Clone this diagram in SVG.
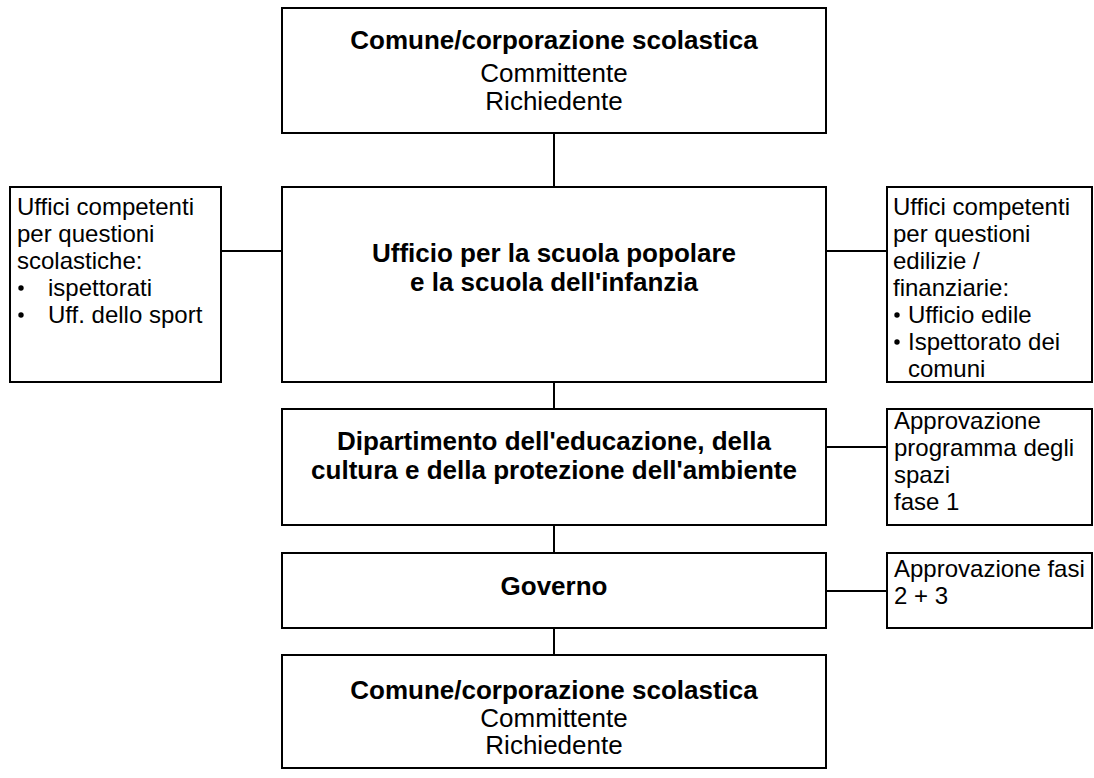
<svg xmlns="http://www.w3.org/2000/svg" width="1094" height="778" viewBox="0 0 1094 778">
<style>
.box{fill:#fff;stroke:#000;stroke-width:2}
.con{stroke:#000;stroke-width:2;fill:none}
text{font-family:"Liberation Sans",Arial,sans-serif;fill:#000}
.m{font-size:26px;text-anchor:middle}
.b{font-weight:bold}
.s{font-size:24px}
</style>
<rect width="1094" height="778" fill="#fff"/>
<g id="connectors">
<line class="con" x1="554" y1="133" x2="554" y2="187"/>
<line class="con" x1="554" y1="382" x2="554" y2="409"/>
<line class="con" x1="554" y1="525" x2="554" y2="553"/>
<line class="con" x1="554" y1="628" x2="554" y2="655"/>
<line class="con" x1="221" y1="251" x2="282" y2="251"/>
<line class="con" x1="826" y1="251" x2="887" y2="251"/>
<line class="con" x1="826" y1="447" x2="887" y2="447"/>
<line class="con" x1="826" y1="591" x2="887" y2="591"/>
</g>
<g id="top">
<rect class="box" x="282" y="8" width="544" height="125"/>
<text class="m b" x="554" y="49">Comune/corporazione scolastica</text>
<text class="m" x="554" y="82">Committente</text>
<text class="m" x="554" y="110">Richiedente</text>
</g>
<g id="ufficio">
<rect class="box" x="282" y="187" width="544" height="195"/>
<text class="m b" x="554" y="262">Ufficio per la scuola popolare</text>
<text class="m b" x="554" y="291">e la scuola dell'infanzia</text>
</g>
<g id="left">
<rect class="box" x="10" y="187" width="211" height="195"/>
<text class="s" x="17" y="215">Uffici competenti</text>
<text class="s" x="17" y="242">per questioni</text>
<text class="s" x="17" y="269">scolastiche:</text>
<circle cx="21" cy="288" r="2.7"/>
<text class="s" x="48" y="296">ispettorati</text>
<circle cx="21" cy="315" r="2.7"/>
<text class="s" x="48" y="323">Uff. dello sport</text>
</g>
<g id="right">
<rect class="box" x="887" y="187" width="205" height="195"/>
<text class="s" x="893" y="215">Uffici competenti</text>
<text class="s" x="893" y="242">per questioni</text>
<text class="s" x="893" y="269">edilizie /</text>
<text class="s" x="893" y="296">finanziarie:</text>
<circle cx="897" cy="315" r="2.7"/>
<text class="s" x="908" y="323">Ufficio edile</text>
<circle cx="897" cy="342" r="2.7"/>
<text class="s" x="908" y="350">Ispettorato dei</text>
<text class="s" x="908" y="377">comuni</text>
</g>
<g id="dipartimento">
<rect class="box" x="282" y="409" width="544" height="116"/>
<text class="m b" x="554" y="450">Dipartimento dell'educazione, della</text>
<text class="m b" x="554" y="479">cultura e della protezione dell'ambiente</text>
</g>
<g id="approvazione1">
<rect class="box" x="887" y="409" width="205" height="116"/>
<text class="s" x="894" y="429">Approvazione</text>
<text class="s" x="894" y="456">programma degli</text>
<text class="s" x="894" y="483">spazi</text>
<text class="s" x="894" y="510">fase 1</text>
</g>
<g id="governo">
<rect class="box" x="282" y="553" width="544" height="75"/>
<text class="m b" x="554" y="595">Governo</text>
</g>
<g id="approvazione2">
<rect class="box" x="887" y="553" width="205" height="75"/>
<text class="s" x="894" y="577">Approvazione fasi</text>
<text class="s" x="894" y="604">2 + 3</text>
</g>
<g id="bottom">
<rect class="box" x="282" y="655" width="544" height="113"/>
<text class="m b" x="554" y="699">Comune/corporazione scolastica</text>
<text class="m" x="554" y="727">Committente</text>
<text class="m" x="554" y="754">Richiedente</text>
</g>
</svg>
